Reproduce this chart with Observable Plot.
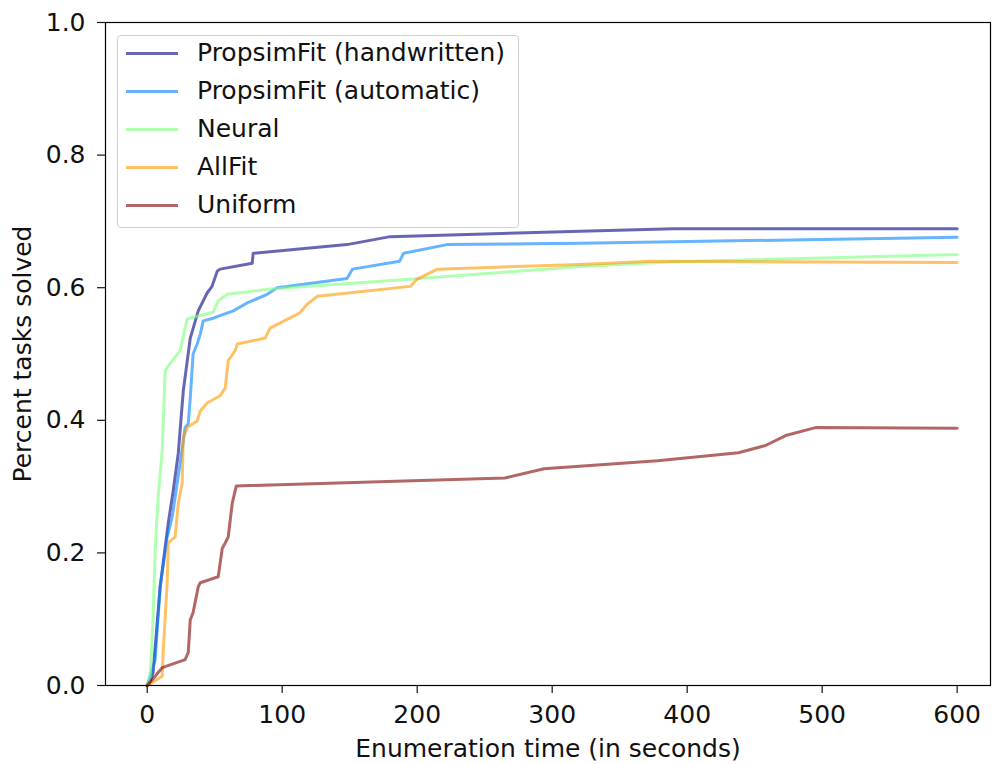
<!DOCTYPE html>
<html>
<head>
<meta charset="utf-8">
<script src="https://cdn.jsdelivr.net/npm/d3@7"></script>
<script src="https://cdn.jsdelivr.net/npm/@observablehq/plot@0.6"></script>
<style>
  html, body { margin: 0; padding: 0; background: #fff; }
  #wrap { position: relative; width: 992px; height: 764px; font-family: "DejaVu Sans", sans-serif; }
  #legend { position: absolute; left: 117px; top: 35px; width: 400px; height: 191px;
    border: 1px solid #d0d0d0; border-radius: 4px; background: rgba(255,255,255,0.8); box-sizing: content-box; }
  .row { position: absolute; left: 0; height: 38px; line-height: 38px; font-size: 25px; color: #111; white-space: nowrap; }
  .handle { position: absolute; left: 8px; width: 52px; height: 3px; }
  .lab { position: absolute; left: 79px; top: 0; }
</style>
</head>
<body>
<div id="wrap"></div>
<script>
// ---- data (time in seconds, fraction of tasks solved) ----
const seriesNames = ["PropsimFit (handwritten)", "PropsimFit (automatic)", "Neural", "AllFit", "Uniform"];
const seriesColors = ["#000080", "#0080ff", "#7bff7b", "#ff9700", "#800000"];

const handwritten = [[0,0],[2,0.005],[4.4,0.02],[9.6,0.149],[15.6,0.245],[19.3,0.294],[23,0.35],[26.7,0.444],[31.9,0.524],[37.8,0.565],[44.4,0.592],[48,0.602],[51.9,0.625],[54,0.628],[77.8,0.637],[78.5,0.652],[148,0.665],[180,0.677],[321,0.685],[390,0.689],[600,0.689]];
const automatic = [[0,0],[5.9,0.039],[9.6,0.149],[14.8,0.224],[18.5,0.254],[24.4,0.335],[28.1,0.389],[30.4,0.395],[31.9,0.434],[34,0.5],[37,0.515],[39.3,0.53],[41.5,0.55],[48.9,0.554],[63.7,0.565],[74,0.577],[88.9,0.59],[96.3,0.6],[148,0.614],[152,0.628],[187,0.64],[190,0.652],[222,0.665],[321,0.667],[600,0.676]];
const neural = [[0,0],[2.2,0.014],[4.4,0.104],[5.9,0.204],[8.1,0.284],[11.1,0.354],[13.3,0.474],[15.6,0.482],[24.4,0.505],[29.6,0.553],[37,0.557],[48.9,0.563],[52.6,0.58],[59.3,0.59],[91,0.598],[197,0.613],[321,0.632],[390,0.639],[600,0.65]];
const allfit = [[0,0],[11.1,0.014],[11.9,0.054],[14.8,0.155],[15.6,0.215],[20.7,0.224],[23,0.275],[25.9,0.305],[26.7,0.374],[29.6,0.389],[37,0.399],[39.3,0.414],[44.4,0.426],[54,0.437],[57.8,0.449],[60,0.49],[65.2,0.505],[66.7,0.515],[87.4,0.524],[91,0.539],[113,0.562],[118.5,0.575],[126,0.587],[195,0.602],[200,0.613],[215,0.628],[321,0.635],[373,0.64],[600,0.638]];
const uniform = [[0,0],[5.9,0.014],[11.1,0.027],[28.1,0.039],[30.4,0.05],[31.9,0.099],[34,0.11],[37.8,0.149],[39.3,0.155],[52.6,0.164],[55.6,0.207],[57.8,0.215],[60,0.224],[63,0.275],[66,0.301],[265,0.313],[294,0.327],[378,0.339],[438,0.351],[458,0.362],[473,0.377],[495,0.389],[600,0.388]];

const xTicks = [0, 100, 200, 300, 400, 500, 600];
const yTicks = [0.0, 0.2, 0.4, 0.6, 0.8, 1.0];
const xLabel = "Enumeration time (in seconds)";
const yLabel = "Percent tasks solved";

const allSeries = [handwritten, automatic, neural, allfit, uniform];
const rows = allSeries.flatMap((s, i) => s.map(([t, v]) => ({t, v, name: seriesNames[i]})));

const chart = Plot.plot({
  width: 992,
  height: 764,
  marginLeft: 105,
  marginRight: 2,
  marginTop: 22,
  marginBottom: 79,
  style: {fontFamily: "DejaVu Sans", fontSize: "25px", color: "#111", background: "#fff"},
  x: {domain: [-30.9, 624.7]},
  y: {domain: [0, 1]},
  color: {domain: seriesNames, range: seriesColors},
  marks: [
    Plot.line(rows, {x: "t", y: "v", z: "name", stroke: "name", strokeWidth: 3, strokeOpacity: 0.6, strokeLinejoin: "round"}),
    Plot.frame({stroke: "#000", strokeWidth: 1.2}),
    Plot.axisX({ticks: xTicks, tickSize: 8, tickPadding: 12, label: null, tickFormat: d3.format("d"), strokeWidth: 1.2}),
    Plot.axisY({ticks: yTicks, tickSize: 8, tickPadding: 12, label: null, tickFormat: d3.format(".1f"), strokeWidth: 1.2}),
    Plot.text([xLabel], {frameAnchor: "bottom", dy: 63, lineAnchor: "middle", textAnchor: "middle", text: d => d}),
    Plot.text([yLabel], {frameAnchor: "left", dx: -83, rotate: -90, lineAnchor: "middle", textAnchor: "middle", text: d => d})
  ]
});

const wrap = document.getElementById("wrap");
wrap.appendChild(chart);

const legend = document.createElement("div");
legend.id = "legend";
seriesNames.forEach((name, i) => {
  const row = document.createElement("div");
  row.className = "row";
  row.style.top = (38 * i - 2) + "px";
  row.style.width = "400px";
  const h = document.createElement("div");
  h.className = "handle";
  h.style.top = "17.5px";
  h.style.background = seriesColors[i];
  h.style.opacity = 0.6;
  const l = document.createElement("span");
  l.className = "lab";
  l.textContent = name;
  row.appendChild(h);
  row.appendChild(l);
  legend.appendChild(row);
});
wrap.appendChild(legend);
</script>
</body>
</html>
